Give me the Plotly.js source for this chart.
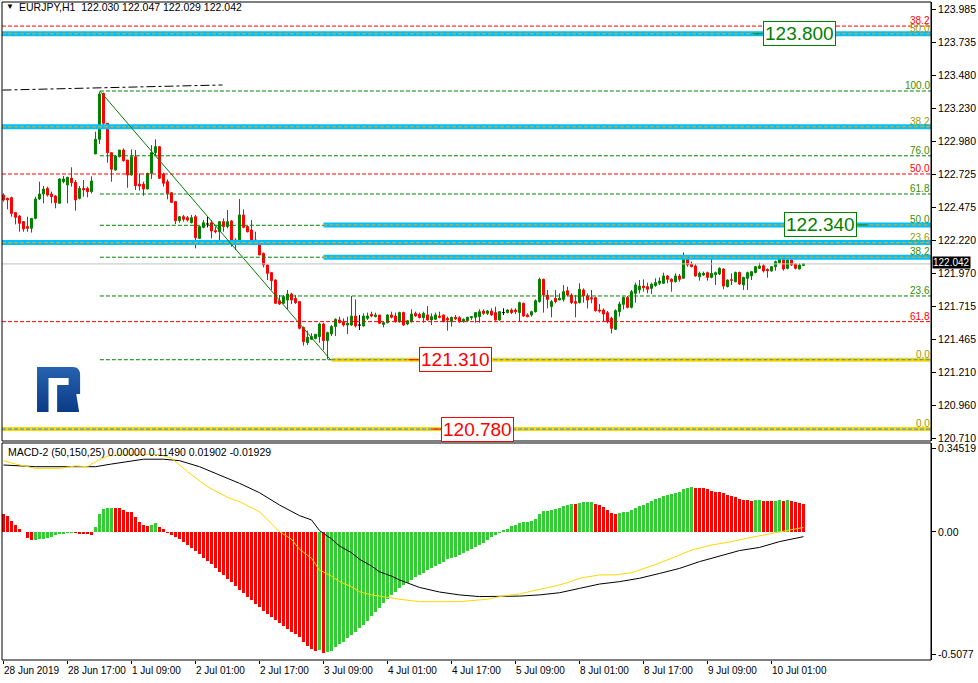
<!DOCTYPE html>
<html><head><meta charset="utf-8">
<script src="https://cdn.plot.ly/plotly-3.0.1.min.js"></script>
<style>html,body{margin:0;padding:0;background:#fff;}#chart{width:978px;height:683px;}</style>
</head><body><div id="chart"></div>
<script>
// ---------- DATA ----------
const openP = [122.568,122.543,122.548,122.434,122.408,122.365,122.327,122.314,122.390,122.538,122.576,122.619,122.576,122.561,122.505,122.670,122.645,122.698,122.665,122.543,
122.619,122.619,122.594,122.882,122.994,123.345,123.116,122.892,122.759,122.861,122.912,122.836,122.721,122.861,122.652,122.652,122.614,122.734,122.892,122.938,
122.729,122.670,122.586,122.518,122.372,122.403,122.395,122.357,122.403,122.237,122.321,122.347,122.357,122.296,122.288,122.365,122.327,122.370,122.212,122.220,
122.416,122.327,122.301,122.225,122.204,122.123,122.034,121.975,121.919,121.761,121.741,121.766,121.812,121.779,121.754,121.557,121.440,121.466,121.473,121.486,
121.583,121.456,121.507,121.563,121.614,121.601,121.575,121.575,121.644,121.575,121.568,121.626,121.657,121.639,121.652,121.580,121.593,121.652,121.644,121.601,
121.670,121.583,121.601,121.664,121.657,121.631,121.652,121.614,121.619,121.644,121.652,121.626,121.601,121.634,121.631,121.601,121.608,121.631,121.634,121.639,
121.682,121.664,121.682,121.670,121.614,121.670,121.670,121.690,121.690,121.670,121.741,121.652,121.652,121.677,121.754,121.924,121.804,121.716,121.779,121.766,
121.771,121.837,121.804,121.754,121.746,121.843,121.797,121.784,121.784,121.690,121.690,121.669,121.626,121.542,121.677,121.733,121.786,121.710,121.817,121.843,
121.873,121.868,121.855,121.876,121.894,121.894,121.950,121.924,121.906,121.950,121.932,122.090,122.041,122.026,121.944,121.957,121.975,121.939,121.960,121.965,
122.003,121.868,121.921,121.906,121.977,121.881,121.932,121.950,121.977,122.008,122.028,122.000,121.988,122.021,122.051,122.079,122.008,122.072,122.041,122.003,
122.030];
const highP = [122.581,122.548,122.556,122.434,122.416,122.370,122.403,122.390,122.556,122.670,122.637,122.632,122.594,122.568,122.696,122.714,122.709,122.780,122.683,122.637,
122.683,122.632,122.711,123.052,123.358,123.350,123.116,122.892,122.874,122.912,122.925,122.836,122.917,122.912,122.734,122.670,122.739,122.950,122.994,122.943,
122.739,122.688,122.586,122.518,122.408,122.416,122.408,122.416,122.416,122.332,122.377,122.403,122.377,122.327,122.370,122.390,122.454,122.377,122.237,122.538,
122.459,122.332,122.377,122.288,122.212,122.128,122.040,121.980,121.924,121.804,121.804,121.843,121.822,121.804,121.754,121.563,121.532,121.512,121.507,121.593,
121.593,121.524,121.575,121.626,121.639,121.626,121.639,121.797,121.771,121.652,121.664,121.670,121.677,121.670,121.652,121.601,121.659,121.677,121.670,121.677,
121.677,121.614,121.695,121.677,121.670,121.677,121.720,121.664,121.670,121.677,121.652,121.639,121.639,121.652,121.644,121.626,121.639,121.644,121.670,121.695,
121.695,121.690,121.703,121.715,121.682,121.703,121.695,121.703,121.703,121.754,121.746,121.664,121.685,121.771,121.937,121.929,121.843,121.766,121.843,121.817,
121.881,121.868,121.817,121.804,121.894,121.855,121.817,121.843,121.792,121.736,121.702,121.682,121.639,121.695,121.753,121.792,121.797,121.843,121.899,121.919,
121.924,121.899,121.899,121.932,121.939,121.975,121.957,121.932,121.970,121.965,122.130,122.110,122.059,122.039,121.983,121.983,121.983,122.097,121.983,122.016,
122.008,121.924,121.970,121.983,121.983,121.944,121.983,121.988,122.026,122.051,122.039,122.008,122.026,122.067,122.110,122.084,122.077,122.077,122.046,122.046,
122.047];
const lowP = [122.518,122.459,122.403,122.344,122.288,122.288,122.288,122.281,122.383,122.530,122.505,122.556,122.505,122.467,122.500,122.658,122.505,122.632,122.449,122.535,
122.556,122.551,122.581,122.882,122.958,123.103,122.815,122.670,122.754,122.856,122.823,122.624,122.716,122.607,122.602,122.563,122.612,122.691,122.874,122.691,
122.632,122.535,122.510,122.347,122.357,122.365,122.365,122.352,122.161,122.237,122.314,122.321,122.237,122.276,122.204,122.288,122.314,122.174,122.148,122.212,
122.314,122.283,122.212,122.187,122.110,122.016,121.919,121.843,121.736,121.728,121.736,121.695,121.736,121.736,121.542,121.417,121.423,121.461,121.466,121.440,
121.384,121.313,121.491,121.491,121.588,121.563,121.507,121.568,121.557,121.537,121.563,121.614,121.634,121.634,121.583,121.557,121.588,121.626,121.593,121.593,
121.568,121.573,121.593,121.639,121.626,121.593,121.608,121.575,121.614,121.626,121.596,121.532,121.563,121.614,121.593,121.593,121.601,121.614,121.593,121.593,
121.652,121.652,121.644,121.608,121.608,121.652,121.664,121.659,121.659,121.601,121.639,121.634,121.639,121.670,121.746,121.670,121.703,121.634,121.741,121.766,
121.754,121.792,121.736,121.634,121.741,121.746,121.702,121.741,121.677,121.669,121.601,121.588,121.511,121.537,121.639,121.695,121.702,121.702,121.746,121.817,
121.830,121.817,121.812,121.868,121.881,121.888,121.894,121.830,121.899,121.906,121.932,122.021,122.016,121.944,121.914,121.950,121.914,121.932,121.881,121.957,
121.848,121.863,121.881,121.901,121.881,121.843,121.843,121.919,121.970,122.003,121.977,121.937,121.983,121.990,122.046,121.990,122.000,122.026,122.000,122.000,
122.029];
const closeP = [122.530,122.530,122.428,122.398,122.352,122.309,122.314,122.390,122.538,122.576,122.614,122.568,122.556,122.510,122.691,122.691,122.703,122.663,122.530,122.619,
122.607,122.594,122.675,122.994,123.340,123.116,122.892,122.765,122.866,122.912,122.831,122.721,122.861,122.640,122.637,122.614,122.734,122.892,122.938,122.696,
122.658,122.581,122.512,122.372,122.403,122.383,122.377,122.395,122.242,122.327,122.357,122.347,122.293,122.288,122.365,122.327,122.365,122.212,122.225,122.416,
122.321,122.288,122.225,122.199,122.110,122.034,121.970,121.914,121.741,121.736,121.792,121.812,121.766,121.746,121.550,121.448,121.481,121.486,121.504,121.583,
121.456,121.517,121.563,121.619,121.593,121.575,121.588,121.644,121.568,121.575,121.644,121.644,121.644,121.652,121.588,121.593,121.652,121.634,121.601,121.670,
121.575,121.608,121.659,121.644,121.631,121.664,121.614,121.639,121.652,121.634,121.601,121.614,121.634,121.621,121.601,121.619,121.634,121.639,121.670,121.677,
121.664,121.682,121.652,121.614,121.677,121.670,121.690,121.670,121.677,121.746,121.644,121.639,121.677,121.761,121.924,121.804,121.771,121.754,121.754,121.779,
121.830,121.804,121.746,121.741,121.848,121.797,121.766,121.774,121.685,121.682,121.659,121.601,121.550,121.685,121.736,121.786,121.710,121.830,121.881,121.873,
121.860,121.848,121.886,121.899,121.911,121.950,121.924,121.906,121.950,121.924,122.090,122.034,122.021,121.950,121.970,121.970,121.939,121.970,121.975,122.008,
121.873,121.919,121.917,121.977,121.888,121.939,121.975,121.983,122.021,122.026,121.988,121.990,122.021,122.059,122.079,122.003,122.072,122.034,122.008,122.034,
122.042];

const macdHist = [0.075,0.066,0.047,0.029,0.011,0.001,-0.025,-0.035,-0.033,-0.030,-0.027,-0.024,-0.020,-0.012,-0.010,-0.008,-0.006,-0.004,-0.006,-0.008,
-0.009,-0.010,-0.011,0.019,0.075,0.095,0.098,0.100,0.099,0.098,0.091,0.084,0.083,0.061,0.043,0.029,0.025,0.029,0.036,0.019,
0.011,-0.004,-0.012,-0.021,-0.031,-0.042,-0.054,-0.066,-0.079,-0.092,-0.106,-0.120,-0.134,-0.149,-0.164,-0.179,-0.194,-0.209,-0.224,-0.239,
-0.254,-0.269,-0.284,-0.298,-0.312,-0.326,-0.340,-0.353,-0.366,-0.378,-0.390,-0.402,-0.413,-0.424,-0.436,-0.455,-0.473,-0.487,-0.492,-0.490,
-0.501,-0.497,-0.492,-0.479,-0.466,-0.455,-0.441,-0.427,-0.414,-0.400,-0.386,-0.368,-0.349,-0.331,-0.314,-0.296,-0.279,-0.261,-0.248,-0.234,
-0.221,-0.210,-0.199,-0.188,-0.178,-0.169,-0.159,-0.151,-0.141,-0.133,-0.123,-0.113,-0.108,-0.102,-0.095,-0.089,-0.080,-0.072,-0.064,-0.054,
-0.044,-0.033,-0.022,-0.012,-0.004,0.008,0.012,0.025,0.029,0.039,0.040,0.043,0.046,0.053,0.075,0.087,0.088,0.091,0.095,0.101,
0.108,0.112,0.116,0.115,0.122,0.124,0.125,0.126,0.116,0.112,0.105,0.091,0.080,0.075,0.080,0.083,0.084,0.091,0.098,0.108,
0.112,0.119,0.127,0.136,0.143,0.150,0.154,0.158,0.161,0.168,0.177,0.181,0.185,0.183,0.182,0.181,0.177,0.172,0.167,0.166,
0.160,0.154,0.149,0.144,0.136,0.133,0.132,0.129,0.131,0.133,0.130,0.129,0.128,0.130,0.132,0.129,0.131,0.128,0.125,0.121,
0.1149];

const blackLineBars = [0,8,16,23,27,31,35,40,44,49,54,59,64,69,74,77,79,82,84,87,89,92,94,97,99,102,104,109,114,119,124,129,134,139,144,149,154,159,164,169,174,179,184,189,194,200];
const blackLineVals = [0.278,0.271,0.271,0.271,0.282,0.292,0.302,0.302,0.296,0.271,0.237,0.202,0.163,0.112,0.068,0.050,0.006,-0.029,-0.058,-0.086,-0.113,-0.141,-0.165,-0.183,-0.199,-0.216,-0.230,-0.249,-0.261,-0.268,-0.268,-0.266,-0.261,-0.252,-0.234,-0.216,-0.206,-0.192,-0.172,-0.151,-0.123,-0.100,-0.077,-0.064,-0.040,-0.01929];
const yellowLineBars = [0,3,8,14,18,21,23,26,31,39,42,46,51,56,59,64,69,72,74,77,79,82,84,87,89,92,94,97,99,102,104,114,118,121,124,129,134,138,141,144,149,153,157,162,167,172,177,182,187,192,196,200];
const yellowLineVals = [0.296,0.282,0.264,0.264,0.274,0.271,0.292,0.315,0.322,0.322,0.306,0.250,0.188,0.144,0.126,0.084,0.001,-0.030,-0.072,-0.109,-0.158,-0.183,-0.206,-0.227,-0.248,-0.261,-0.266,-0.275,-0.279,-0.285,-0.289,-0.289,-0.285,-0.279,-0.268,-0.257,-0.238,-0.224,-0.210,-0.192,-0.178,-0.178,-0.169,-0.141,-0.109,-0.075,-0.054,-0.040,-0.022,-0.006,0.009,0.01902];

const timeTickBars = [0,16,32,48,64,80,96,112,128,144,160,176,192];
const timeTickLabels = ['28 Jun 2019','28 Jun 17:00','1 Jul 09:00','2 Jul 01:00','2 Jul 17:00','3 Jul 09:00','4 Jul 01:00','4 Jul 17:00','5 Jul 09:00','8 Jul 01:00','8 Jul 17:00','9 Jul 09:00','10 Jul 01:00'];
const priceTicks = [123.985,123.735,123.480,123.230,122.980,122.725,122.475,122.220,121.970,121.715,121.465,121.210,120.960,120.710];
const macdTicks = [0.34519,0.0,-0.5077];
const macdTickLabels = ['0.34519','0.00','-0.5077'];

// horizontal levels (prices)
const greenFibLevels = [123.363,122.868,122.576,122.337,122.093,121.797,121.310];
const redFibLevels = [123.859,122.729,121.601];
const blueBandFull = [123.800,123.090,122.205];
const blueBandPartial = [122.340,122.093];
const yellowBandPartial = [121.310];
const yellowBandFull = [120.780];
const lastPrice = 122.042;
const fibLabelLevels = [123.859,123.800,123.363,123.090,122.868,122.729,122.576,122.337,122.205,122.093,121.797,121.601,121.310,120.780];
const fibLabelTexts = ['38.2','50.0','100.0','38.2','76.0','50.0','61.8','50.0','23.6','38.2','23.6','61.8','0.0','0.0'];
const fibLabelKinds = ['r','o','g','o','g','r','g','g','o','g','g','r','o','o'];
const boxLabelPrices = [123.800,122.340,121.310,120.780];
const boxLabelTexts = ['123.800','122.340','121.310','120.780'];
const boxLabelBars = [199,204.25,112.9,118.5];
const boxLabelKinds = ['g','g','r','r'];
// trend lines: [bar0, price0, bar1, price1]
const fibTrend = [24.1, 123.363, 81.75, 121.310];
const topTrend = [-0.25, 123.370, 54.75, 123.409];

// ---------- BUILD ----------
const X0 = -0.375, X1 = 231.875;
const FONT = 'Liberation Sans, Arial, sans-serif';
const idx = openP.map((_, i) => i);
function pick(cond) {
  const o = {x: [], open: [], high: [], low: [], close: []};
  idx.forEach(i => { if (cond(i)) { o.x.push(i); o.open.push(openP[i]); o.high.push(highP[i]); o.low.push(lowP[i]); o.close.push(closeP[i]); } });
  return o;
}
function candle(d, col) {
  return Object.assign({type: 'candlestick', xaxis: 'x', yaxis: 'y', hoverinfo: 'skip', whiskerwidth: 0,
    increasing: {line: {color: col, width: 1}, fillcolor: col},
    decreasing: {line: {color: col, width: 1}, fillcolor: col}}, d);
}
const traces = [
  candle(pick(i => closeP[i] > openP[i]), '#008000'),
  candle(pick(i => closeP[i] < openP[i]), '#FF0000'),
  candle(pick(i => closeP[i] === openP[i]), '#000000'),
  {type: 'bar', x: idx, y: macdHist, xaxis: 'x', yaxis: 'y2', width: 0.75, hoverinfo: 'skip',
   marker: {color: macdHist.map((v, i) => (i > 0 && v > macdHist[i-1]) ? '#32CD32' : '#FF0000'), line: {width: 0}}},
  {type: 'scatter', mode: 'lines', x: blackLineBars, y: blackLineVals, xaxis: 'x', yaxis: 'y2', line: {color: '#000000', width: 1}, hoverinfo: 'skip'},
  {type: 'scatter', mode: 'lines', x: yellowLineBars, y: yellowLineVals, xaxis: 'x', yaxis: 'y2', line: {color: '#FFD700', width: 1}, hoverinfo: 'skip'}
];

const shapes = [];
function hline(y, x0, col, w, dash) {
  shapes.push({type: 'line', xref: 'x', yref: 'y', x0: x0, x1: X1, y0: y, y1: y, layer: 'above', line: {color: col, width: w, dash: dash || 'solid'}});
}
hline(lastPrice, X0, '#C0C0C0', 1);
redFibLevels.forEach(y => hline(y, X0, '#FF0000', 1, '4px,2px'));
greenFibLevels.forEach(y => hline(y, fibTrend[0], '#008000', 1, '4px,2px'));
blueBandFull.forEach(y => { hline(y, X0, '#00BFFF', 5); hline(y, X0, '#FFA500', 1, '4px,2px'); });
blueBandPartial.forEach(y => { hline(y, 80, '#00BFFF', 5); hline(y, 80, '#FFA500', 1, '4px,2px'); });
yellowBandPartial.forEach(y => { hline(y, 82, '#FFD700', 4); hline(y, 82, '#1E90FF', 1, '4px,2px'); });
yellowBandFull.forEach(y => { hline(y, X0, '#FFD700', 4); hline(y, X0, '#1E90FF', 1, '4px,2px'); });
shapes.push({type: 'line', xref: 'x', yref: 'y', x0: fibTrend[0], y0: fibTrend[1], x1: fibTrend[2], y1: fibTrend[3], layer: 'above', line: {color: '#008000', width: 1}});
shapes.push({type: 'line', xref: 'x', yref: 'y', x0: topTrend[0], y0: topTrend[1], x1: topTrend[2], y1: topTrend[3], layer: 'above', line: {color: '#000000', width: 1, dash: 'dashdot'}});
// panel frames
shapes.push({type: 'rect', xref: 'x domain', yref: 'y domain', x0: 0, x1: 1, y0: 0, y1: 1, layer: 'above', line: {color: '#000', width: 1}});
shapes.push({type: 'rect', xref: 'x domain', yref: 'y2 domain', x0: 0, x1: 1, y0: 0, y1: 1, layer: 'above', line: {color: '#000', width: 1}});
// connectors for box labels
const connectors = [[187.25, 189.75], [213.5, 216], [101.25, 103.75], [107, 109.5]];
boxLabelPrices.forEach((p, k) => shapes.push({type: 'line', xref: 'x', yref: 'y', x0: connectors[k][0], x1: connectors[k][1], y0: p, y1: p, layer: 'above',
  line: {color: boxLabelKinds[k] === 'g' ? '#008000' : '#FF0000', width: 1}}));

const annotations = [];
annotations.push({xref: 'paper', yref: 'paper', x: 0.002, y: 0.9925, xanchor: 'left', yanchor: 'middle', showarrow: false,
  text: '▼', font: {family: FONT, size: 8, color: '#000'}});
annotations.push({xref: 'paper', yref: 'paper', x: 0.016, y: 0.9925, xanchor: 'left', yanchor: 'middle', showarrow: false,
  text: 'EURJPY,H1  122.030 122.047 122.029 122.042', font: {family: FONT, size: 10.5, color: '#000'}});
annotations.push({xref: 'paper', yref: 'paper', x: 0.004, y: 0.3155, xanchor: 'left', yanchor: 'middle', showarrow: false,
  text: 'MACD-2 (50,150,25) 0.00000 0.11490 0.01902 -0.01929', font: {family: FONT, size: 10.5, color: '#000'}});
const kindCol = {r: '#FF0000', g: '#3C8C00', o: '#9A9A00'};
fibLabelLevels.forEach((p, k) => annotations.push({xref: 'paper', yref: 'y', x: 1, y: p, xanchor: 'right', yanchor: 'bottom', yshift: 1, height: 8,
  showarrow: false, text: fibLabelTexts[k], borderpad: 0, font: {family: FONT, size: 10, color: kindCol[fibLabelKinds[k]]}}));
boxLabelPrices.forEach((p, k) => {
  const c = boxLabelKinds[k] === 'g' ? '#008000' : '#FF0000';
  annotations.push({xref: 'x', yref: 'y', x: boxLabelBars[k], y: p, xanchor: 'center', yanchor: 'middle', showarrow: false,
    text: boxLabelTexts[k], font: {family: FONT, size: 19, color: c}, bgcolor: '#FFFFFF', bordercolor: c, borderwidth: 1, borderpad: 1});
});
annotations.push({xref: 'paper', yref: 'y', x: 1, y: lastPrice, xanchor: 'left', yanchor: 'middle', showarrow: false, xshift: 1, yshift: 1,
  text: lastPrice.toFixed(3), font: {family: FONT, size: 10, color: '#FFFFFF'}, bgcolor: '#000000', borderpad: 0});
timeTickBars.forEach((b, k) => annotations.push({xref: 'x', yref: 'paper', x: b, y: 0, xanchor: 'left', yanchor: 'top', yshift: -3, xshift: -2,
  showarrow: false, text: timeTickLabels[k], font: {family: FONT, size: 10, color: '#000'}}));

const logoSvg = "<svg xmlns='http://www.w3.org/2000/svg' width='46' height='45' viewBox='0 0 46 45'><defs><linearGradient id='g' x1='0' y1='0' x2='0' y2='1'><stop offset='0' stop-color='#2662b0'/><stop offset='1' stop-color='#0c3b86'/></linearGradient></defs><path d='M0,0 H37 Q45,0 45,8 V27 H41 L44,45 H21 V18 H33 V11 H12 V45 H0 Z' fill='url(#g)'/></svg>";

const layout = {
  width: 978, height: 683, margin: {l: 2, r: 47, t: 2, b: 23}, paper_bgcolor: '#FFFFFF', plot_bgcolor: '#FFFFFF',
  showlegend: false, font: {family: FONT, size: 10.5, color: '#000'},
  xaxis: {range: [X0, X1], anchor: 'y2', showgrid: false, zeroline: false, showline: false, rangeslider: {visible: false},
    tickmode: 'array', tickvals: timeTickBars, ticks: 'outside', ticklen: 3, tickcolor: '#000', showticklabels: false},
  yaxis: {domain: [0.33283, 1], range: [120.689, 124.043], side: 'right', anchor: 'x', showgrid: false, zeroline: false,
    showline: true, linecolor: '#000', linewidth: 1, tickmode: 'array', tickvals: priceTicks, ticktext: priceTicks.map(v => v.toFixed(3)),
    ticks: 'outside', ticklen: 4, tickcolor: '#000', tickfont: {family: FONT, size: 10.5, color: '#000'}},
  yaxis2: {domain: [0, 0.32979], range: [-0.5311, 0.3693], side: 'right', anchor: 'x', showgrid: false, zeroline: false,
    showline: true, linecolor: '#000', linewidth: 1, tickmode: 'array', tickvals: macdTicks, ticktext: macdTickLabels,
    ticks: 'outside', ticklen: 4, tickcolor: '#000', tickfont: {family: FONT, size: 10.5, color: '#000'}},
  bargap: 0, shapes: shapes, annotations: annotations,
  images: [{source: 'data:image/svg+xml;utf8,' + encodeURIComponent(logoSvg), xref: 'paper', yref: 'paper',
    x: 0.0377, y: 0.4453, sizex: 0.0474, sizey: 0.0684, xanchor: 'left', yanchor: 'top', sizing: 'stretch', layer: 'above'}]
};
Plotly.newPlot('chart', traces, layout, {staticPlot: true, displayModeBar: false});
</script></body></html>
